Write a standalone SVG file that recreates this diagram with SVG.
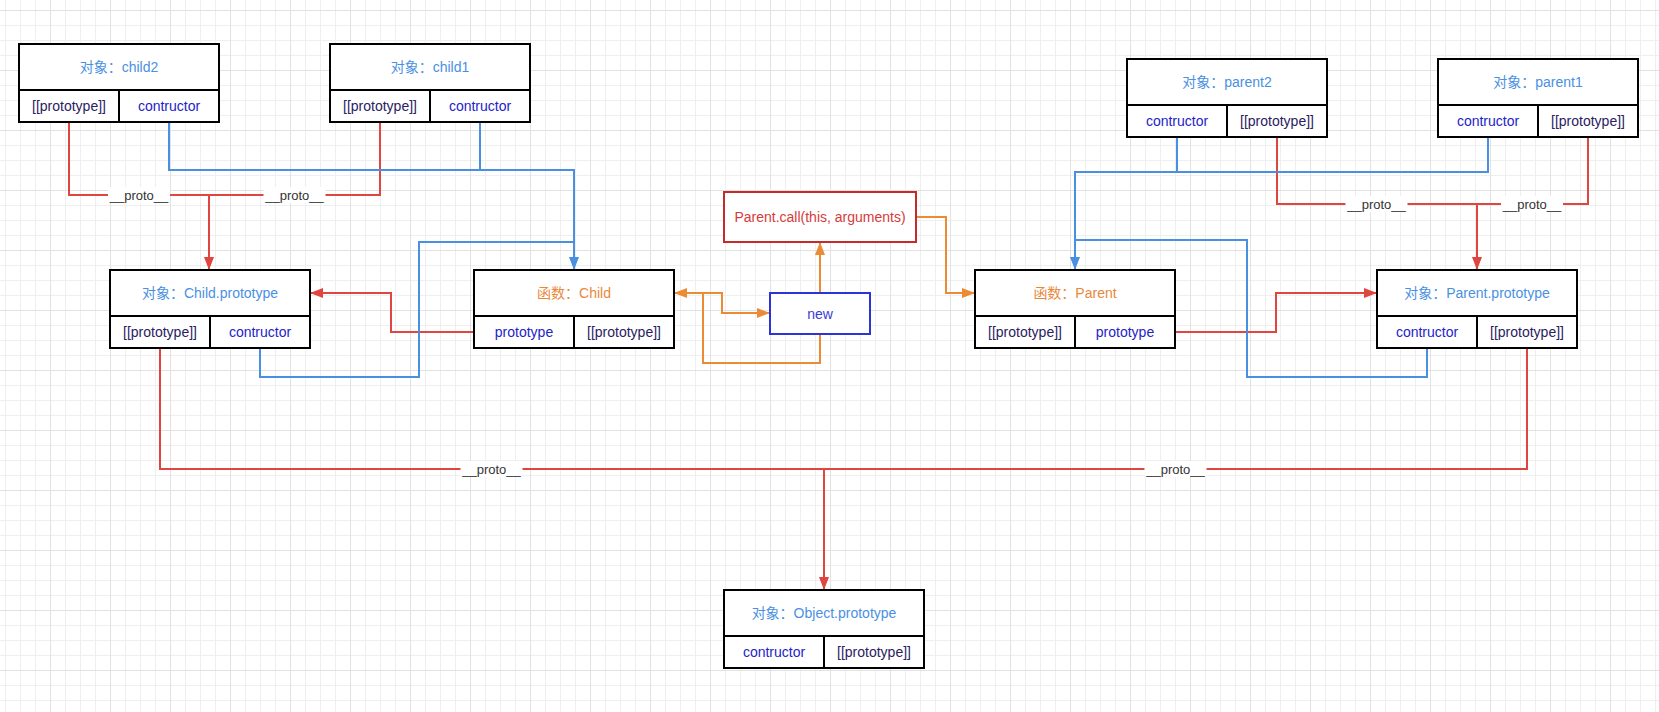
<svg xmlns="http://www.w3.org/2000/svg" width="1659" height="712" viewBox="0 0 1659 712">
<style>
text{font-family:"Liberation Sans","Noto Sans CJK SC",sans-serif;font-size:14px;text-anchor:middle;dominant-baseline:central}
.box{fill:#fff;stroke:#000;stroke-width:2}
.sep{stroke:#000;stroke-width:2}
.obj{fill:#4a90e2}
.fn{fill:#e8883a}
.cb{fill:#2323c8}
.cd{fill:#2a2161}
.red{fill:none;stroke:#e0463f;stroke-width:2}
.blue{fill:none;stroke:#4a90e2;stroke-width:2}
.orange{fill:none;stroke:#ec8b35;stroke-width:2}
.lbl{fill:#fff}
.lt{font-size:13px;fill:#333}
</style>
<defs>
<pattern id="grid" x="-10" y="10" width="60" height="60" patternUnits="userSpaceOnUse">
<path d="M15.5 0V60M30.5 0V60M45.5 0V60M0 15.5H60M0 30.5H60M0 45.5H60" stroke="#efefef" stroke-width="1"/>
<path d="M0.5 0V60M0 0.5H60" stroke="#e2e2e2" stroke-width="1"/>
</pattern>
<marker id="aR" markerUnits="userSpaceOnUse" markerWidth="13" markerHeight="10" refX="13" refY="5" orient="auto"><path d="M0 0L13 5L0 10z" fill="#e0463f"/></marker>
<marker id="aB" markerUnits="userSpaceOnUse" markerWidth="13" markerHeight="10" refX="13" refY="5" orient="auto"><path d="M0 0L13 5L0 10z" fill="#4a90e2"/></marker>
<marker id="aO" markerUnits="userSpaceOnUse" markerWidth="13" markerHeight="10" refX="13" refY="5" orient="auto"><path d="M0 0L13 5L0 10z" fill="#ec8b35"/></marker>
</defs>
<rect width="1659" height="712" fill="#fff"/>
<rect width="1659" height="712" fill="url(#grid)"/>

<g id="connectors">
<path class="red" d="M69 122V195H209"/>
<path class="red" d="M380 122V195H209V270" marker-end="url(#aR)"/>
<path class="red" d="M474 332H391V293H310" marker-end="url(#aR)"/>
<path class="red" d="M1175 332H1276V293H1377" marker-end="url(#aR)"/>
<path class="red" d="M1588 137V204H1477"/>
<path class="red" d="M1277 137V204H1477V270" marker-end="url(#aR)"/>
<path class="red" d="M1527 348V469H824"/>
<path class="red" d="M160 348V469H824V590" marker-end="url(#aR)"/>

<path class="blue" d="M480 122V170"/>
<path class="blue" d="M169 122V170H574V270" marker-end="url(#aB)"/>
<path class="blue" d="M260 348V377H419V242H574"/>
<path class="blue" d="M1488 137V172H1177"/>
<path class="blue" d="M1177 137V172H1075V270" marker-end="url(#aB)"/>
<path class="blue" d="M1427 348V377H1247V240H1075"/>

<path class="orange" d="M820 334V363H703V293H674" marker-end="url(#aO)"/>
<path class="orange" d="M674 293H722V313H770" marker-end="url(#aO)"/>
<path class="orange" d="M820 293V242" marker-end="url(#aO)"/>
<path class="orange" d="M916 217H946V293H975" marker-end="url(#aO)"/>

<rect class="lbl" x="108" y="187" width="62" height="16"/><text class="lt" x="139" y="195">__proto__</text>
<rect class="lbl" x="263.5" y="187" width="62" height="16"/><text class="lt" x="294.5" y="195">__proto__</text>
<rect class="lbl" x="1345.5" y="196" width="62" height="16"/><text class="lt" x="1376.5" y="204">__proto__</text>
<rect class="lbl" x="1501" y="196" width="62" height="16"/><text class="lt" x="1532" y="204">__proto__</text>
<rect class="lbl" x="460.5" y="461" width="62" height="16"/><text class="lt" x="491.5" y="469">__proto__</text>
<rect class="lbl" x="1144.5" y="461" width="62" height="16"/><text class="lt" x="1175.5" y="469">__proto__</text>
</g>

<g id="child2">
<rect class="box" x="19" y="44" width="200" height="78"/>
<path class="sep" d="M19 90H219M119 90V122"/>
<text class="obj" x="119" y="67">对象：child2</text>
<text class="cd" x="69" y="106">[[prototype]]</text>
<text class="cb" x="169" y="106">contructor</text>
</g>

<g id="child1">
<rect class="box" x="330" y="44" width="200" height="78"/>
<path class="sep" d="M330 90H530M430 90V122"/>
<text class="obj" x="430" y="67">对象：child1</text>
<text class="cd" x="380" y="106">[[prototype]]</text>
<text class="cb" x="480" y="106">contructor</text>
</g>

<g id="child-prototype">
<rect class="box" x="110" y="270" width="200" height="78"/>
<path class="sep" d="M110 316H310M210 316V348"/>
<text class="obj" x="210" y="293">对象：Child.prototype</text>
<text class="cd" x="160" y="332">[[prototype]]</text>
<text class="cb" x="260" y="332">contructor</text>
</g>

<g id="child-fn">
<rect class="box" x="474" y="270" width="200" height="78"/>
<path class="sep" d="M474 316H674M574 316V348"/>
<text class="fn" x="574" y="293">函数：Child</text>
<text class="cb" x="524" y="332">prototype</text>
<text class="cd" x="624" y="332">[[prototype]]</text>
</g>

<g id="parent-call">
<rect x="724" y="192" width="192" height="50" fill="#fff" stroke="#c62a2a" stroke-width="2"/>
<text x="820" y="217" fill="#d63a3a">Parent.call(this, arguments)</text>
</g>

<g id="new">
<rect x="770" y="293" width="100" height="41" fill="#fff" stroke="#2b35d6" stroke-width="2"/>
<text x="820" y="313.5" fill="#3b3bd6">new</text>
</g>

<g id="parent-fn">
<rect class="box" x="975" y="270" width="200" height="78"/>
<path class="sep" d="M975 316H1175M1075 316V348"/>
<text class="fn" x="1075" y="293">函数：Parent</text>
<text class="cd" x="1025" y="332">[[prototype]]</text>
<text class="cb" x="1125" y="332">prototype</text>
</g>

<g id="parent-prototype">
<rect class="box" x="1377" y="270" width="200" height="78"/>
<path class="sep" d="M1377 316H1577M1477 316V348"/>
<text class="obj" x="1477" y="293">对象：Parent.prototype</text>
<text class="cb" x="1427" y="332">contructor</text>
<text class="cd" x="1527" y="332">[[prototype]]</text>
</g>

<g id="parent2">
<rect class="box" x="1127" y="59" width="200" height="78"/>
<path class="sep" d="M1127 105H1327M1227 105V137"/>
<text class="obj" x="1227" y="82">对象：parent2</text>
<text class="cb" x="1177" y="121">contructor</text>
<text class="cd" x="1277" y="121">[[prototype]]</text>
</g>

<g id="parent1">
<rect class="box" x="1438" y="59" width="200" height="78"/>
<path class="sep" d="M1438 105H1638M1538 105V137"/>
<text class="obj" x="1538" y="82">对象：parent1</text>
<text class="cb" x="1488" y="121">contructor</text>
<text class="cd" x="1588" y="121">[[prototype]]</text>
</g>

<g id="object-prototype">
<rect class="box" x="724" y="590" width="200" height="78"/>
<path class="sep" d="M724 636H924M824 636V668"/>
<text class="obj" x="824" y="613">对象：Object.prototype</text>
<text class="cb" x="774" y="652">contructor</text>
<text class="cd" x="874" y="652">[[prototype]]</text>
</g>
</svg>
